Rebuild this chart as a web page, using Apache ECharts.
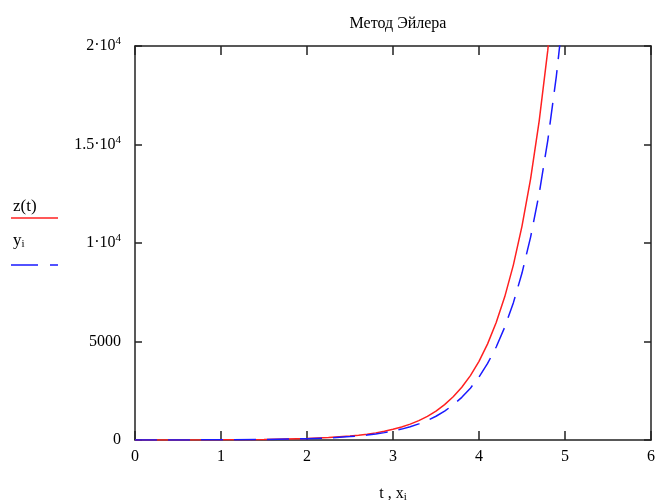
<!DOCTYPE html>
<html>
<head>
<meta charset="utf-8">
<script src="https://cdn.jsdelivr.net/npm/echarts@6/dist/echarts.min.js"></script>
<style>
  html, body { margin: 0; padding: 0; background: #fff; }
  #chart { width: 659px; height: 500px; }
</style>
</head>
<body>
<div id="chart"></div>
<script>
// значения
var tVals = [0, 0.5, 1, 1.5, 2, 2.25, 2.5, 2.6, 2.7, 2.8, 2.9, 3, 3.1, 3.2, 3.3, 3.4, 3.5, 3.6, 3.7, 3.8, 3.9,
             4, 4.1, 4.2, 4.3, 4.4, 4.5, 4.6, 4.7, 4.8, 4.9, 5];
var zVals = [1.3, 3.6, 9.9, 27, 73, 121, 199, 243, 297, 362, 443, 541, 660, 806, 985, 1203, 1470, 1795, 2192, 2678, 3270,
             3995, 4880, 5960, 7280, 8890, 10860, 13260, 16200, 19790, 24170, 29520];
var xVals = [0, 0.5, 1, 1.5, 2, 2.25, 2.5, 2.6, 2.7, 2.8, 2.9, 3, 3.1, 3.2, 3.3, 3.4, 3.5, 3.6, 3.7, 3.8, 3.9,
             4, 4.1, 4.2, 4.3, 4.4, 4.5, 4.6, 4.7, 4.8, 4.9, 5];
var yVals = [1.3, 3.5, 9.2, 24, 65, 106, 172, 209, 253, 308, 374, 455, 553, 672, 817, 992, 1206, 1466, 1781, 2165, 2631,
             3197, 3885, 4722, 5738, 6973, 8474, 10300, 12517, 15213, 18488, 22471];
var yTickLabels = {
    0: '0',
    5000: '5000',
    10000: '{n|1\u00b710}{s|4}',
    15000: '{n|1.5\u00b710}{s|4}',
    20000: '{n|2\u00b710}{s|4}'
};

var FONT = '"Liberation Serif", "DejaVu Serif", serif';
var AXIS_COLOR = '#222';

var myChart = echarts.init(document.getElementById('chart'));

function pairs(xs, ys) {
    return xs.map(function (x, i) { return [x, ys[i]]; });
}

var option = {
    animation: false,
    backgroundColor: '#fff',
    title: {
        text: 'Метод Эйлера',
        left: 393,
        top: 11,
        textAlign: 'center',
        textStyle: { fontFamily: FONT, fontSize: 16, fontWeight: 'normal', color: '#000' }
    },
    grid: { left: 135, right: 8, top: 46, bottom: 60, outerBoundsMode: 'none' },
    xAxis: [
        {
            type: 'value', min: 0, max: 6, interval: 1,
            position: 'bottom',
            name: '{n|t , x}{sub|i}',
            nameLocation: 'middle',
            nameGap: 44,
            nameTextStyle: {
                rich: {
                    n: { fontFamily: FONT, fontSize: 16, color: '#000' },
                    sub: { fontFamily: FONT, fontSize: 11, color: '#000', verticalAlign: 'bottom', padding: [8, 0, 0, 0] }
                }
            },
            splitLine: { show: false },
            axisLine: { onZero: false, lineStyle: { color: AXIS_COLOR, width: 1.5 } },
            axisTick: { inside: true, length: 9, lineStyle: { color: AXIS_COLOR, width: 1.5 } },
            axisLabel: { margin: 9, fontFamily: FONT, fontSize: 16, color: '#000' }
        },
        {
            type: 'value', min: 0, max: 6, interval: 1,
            position: 'top',
            splitLine: { show: false },
            axisLine: { onZero: false, lineStyle: { color: AXIS_COLOR, width: 1.5 } },
            axisTick: { inside: true, length: 9, lineStyle: { color: AXIS_COLOR, width: 1.5 } },
            axisLabel: { show: false }
        }
    ],
    yAxis: [
        {
            type: 'value', min: 0, max: 20000, interval: 5000,
            position: 'left',
            splitLine: { show: false },
            axisLine: { onZero: false, lineStyle: { color: AXIS_COLOR, width: 1.5 } },
            axisTick: { inside: true, length: 7, lineStyle: { color: AXIS_COLOR, width: 1.5 } },
            axisLabel: {
                margin: 14,
                formatter: function (v) { return yTickLabels[v]; },
                fontFamily: FONT, fontSize: 16, color: '#000',
                rich: {
                    n: { fontFamily: FONT, fontSize: 16, color: '#000' },
                    s: { fontFamily: FONT, fontSize: 11, color: '#000', verticalAlign: 'top', padding: [0, 0, 9, 0] }
                }
            }
        },
        {
            type: 'value', min: 0, max: 20000, interval: 5000,
            position: 'right',
            splitLine: { show: false },
            axisLine: { onZero: false, lineStyle: { color: AXIS_COLOR, width: 1.5 } },
            axisTick: { inside: true, length: 7, lineStyle: { color: AXIS_COLOR, width: 1.5 } },
            axisLabel: { show: false }
        }
    ],
    series: [
        {
            name: 'z(t)',
            type: 'line',
            data: pairs(tVals, zVals),
            showSymbol: false,
            clip: true,
            lineStyle: { color: '#ff2020', width: 1.5 },
            z: 3
        },
        {
            name: 'y_i',
            type: 'line',
            data: pairs(xVals, yVals),
            showSymbol: false,
            clip: true,
            lineStyle: { color: '#1a1aff', width: 1.5, type: [22, 11] },
            z: 4
        }
    ],
    /* легенда слева, как в Mathcad */
    graphic: [
        {
            type: 'text', left: 13, top: 198,
            style: { text: 'z(t)', font: '17px ' + FONT, fill: '#000' }
        },
        {
            type: 'line', shape: { x1: 11, y1: 218, x2: 58, y2: 218 },
            style: { stroke: '#ff2020', lineWidth: 1.5 }
        },
        {
            type: 'text', left: 13, top: 232,
            style: {
                text: '{n|y}{sub|i}',
                rich: {
                    n: { fontFamily: FONT, fontSize: 17, fill: '#000' },
                    sub: { fontFamily: FONT, fontSize: 11, fill: '#000', verticalAlign: 'bottom', padding: [8, 0, 0, 0] }
                }
            }
        },
        {
            type: 'line', shape: { x1: 11, y1: 265, x2: 58, y2: 265 },
            style: { stroke: '#1a1aff', lineWidth: 1.5, lineDash: [27, 12] }
        }
    ]
};

myChart.setOption(option);
</script>
</body>
</html>
